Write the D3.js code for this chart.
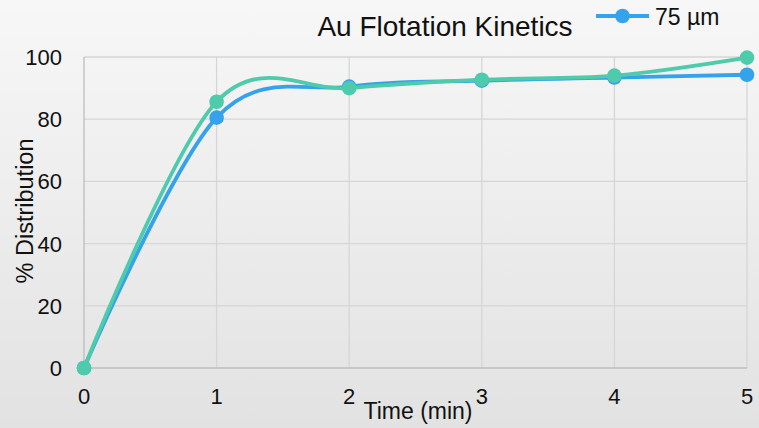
<!DOCTYPE html>
<html><head><meta charset="utf-8">
<script src="https://cdn.jsdelivr.net/npm/d3@7"></script>
<style>body{margin:0;padding:0;overflow:hidden}svg{display:block;font-family:Arial,"Liberation Sans",sans-serif}</style>
</head><body>
<script>
const times = [0, 1, 2, 3, 4, 5];
const blueValues = [0, 80.5, 90.5, 92.4, 93.4, 94.3];
const greenValues = [0, 85.6, 90.0, 92.7, 94.0, 99.8];
const yTicks = [0, 20, 40, 60, 80, 100];
const xTicks = [0, 1, 2, 3, 4, 5];
const legendLabel = "75 µm";
const titleText = "Au Flotation Kinetics";

const W = 759, H = 428;
const svg = d3.select("body").append("svg").attr("width", W).attr("height", H);
const defs = svg.append("defs");
const grad = defs.append("linearGradient").attr("id","bg").attr("x1",0).attr("y1",0).attr("x2",0).attr("y2",1);
grad.append("stop").attr("offset","0%").attr("stop-color","#f7f7f7");
grad.append("stop").attr("offset","100%").attr("stop-color","#e2e2e2");
svg.append("rect").attr("width",W).attr("height",H).attr("fill","url(#bg)");

const x = d3.scaleLinear().domain([0,5]).range([84,747]);
const y = d3.scaleLinear().domain([0,100]).range([368,57]);

const g = svg.append("g");
g.selectAll(".hg").data(yTicks.filter(d=>d>0)).join("line")
  .attr("x1",x(0)).attr("x2",x(5)).attr("y1",d=>y(d)).attr("y2",d=>y(d))
  .attr("stroke","#d6d6d6").attr("stroke-width",1.3);
g.selectAll(".vg").data(xTicks.filter(d=>d>0)).join("line")
  .attr("x1",d=>x(d)).attr("x2",d=>x(d)).attr("y1",y(0)).attr("y2",y(100))
  .attr("stroke","#d6d6d6").attr("stroke-width",1.3);
g.append("line").attr("x1",x(0)).attr("x2",x(0)).attr("y1",y(0)).attr("y2",y(100)).attr("stroke","#bdbdbd").attr("stroke-width",1.3);
g.append("line").attr("x1",x(0)).attr("x2",x(5)).attr("y1",y(0)).attr("y2",y(0)).attr("stroke","#bdbdbd").attr("stroke-width",1.3);

// tick labels
svg.selectAll(".yt").data(yTicks).join("text")
  .attr("x",62).attr("y",d=>y(d)+8).attr("text-anchor","end")
  .attr("font-size",22).attr("fill","#111").text(d=>d);
svg.selectAll(".xt").data(xTicks).join("text")
  .attr("x",d=>x(d)).attr("y",404).attr("text-anchor","middle")
  .attr("font-size",22).attr("fill","#111").text(d=>d);

// axis titles
svg.append("text").attr("x",418).attr("y",419).attr("text-anchor","middle")
  .attr("font-size",23).attr("fill","#111").text("Time (min)");
svg.append("text").attr("transform","translate(33,211) rotate(-90)").attr("text-anchor","middle")
  .attr("font-size",23.5).attr("fill","#111").text("% Distribution");
svg.append("text").attr("x",445).attr("y",36).attr("text-anchor","middle")
  .attr("font-size",28).attr("fill","#111").text(titleText);

const line = d3.line().x(d=>x(d[0])).y(d=>y(d[1])).curve(d3.curveCatmullRom.alpha(0));
const series = [
  {vals: blueValues, color: "#35a2ec"},
  {vals: greenValues, color: "#4ecbaa"}
];
series.forEach(s=>{
  const pts = times.map((t,i)=>[t,s.vals[i]]);
  svg.append("path").datum(pts).attr("d",line).attr("fill","none")
    .attr("stroke",s.color).attr("stroke-width",3.8);
  svg.selectAll(null).data(pts).join("circle")
    .attr("cx",d=>x(d[0])).attr("cy",d=>y(d[1])).attr("r",7.3).attr("fill",s.color);
});

// legend
const lg = svg.append("g");
lg.append("line").attr("x1",596).attr("x2",649).attr("y1",16).attr("y2",16).attr("stroke","#35a2ec").attr("stroke-width",3.8);
lg.append("circle").attr("cx",622.5).attr("cy",16).attr("r",7.3).attr("fill","#35a2ec");
lg.append("text").attr("x",655).attr("y",25).attr("font-size",23).attr("fill","#111").text(legendLabel);
</script>
</body></html>
